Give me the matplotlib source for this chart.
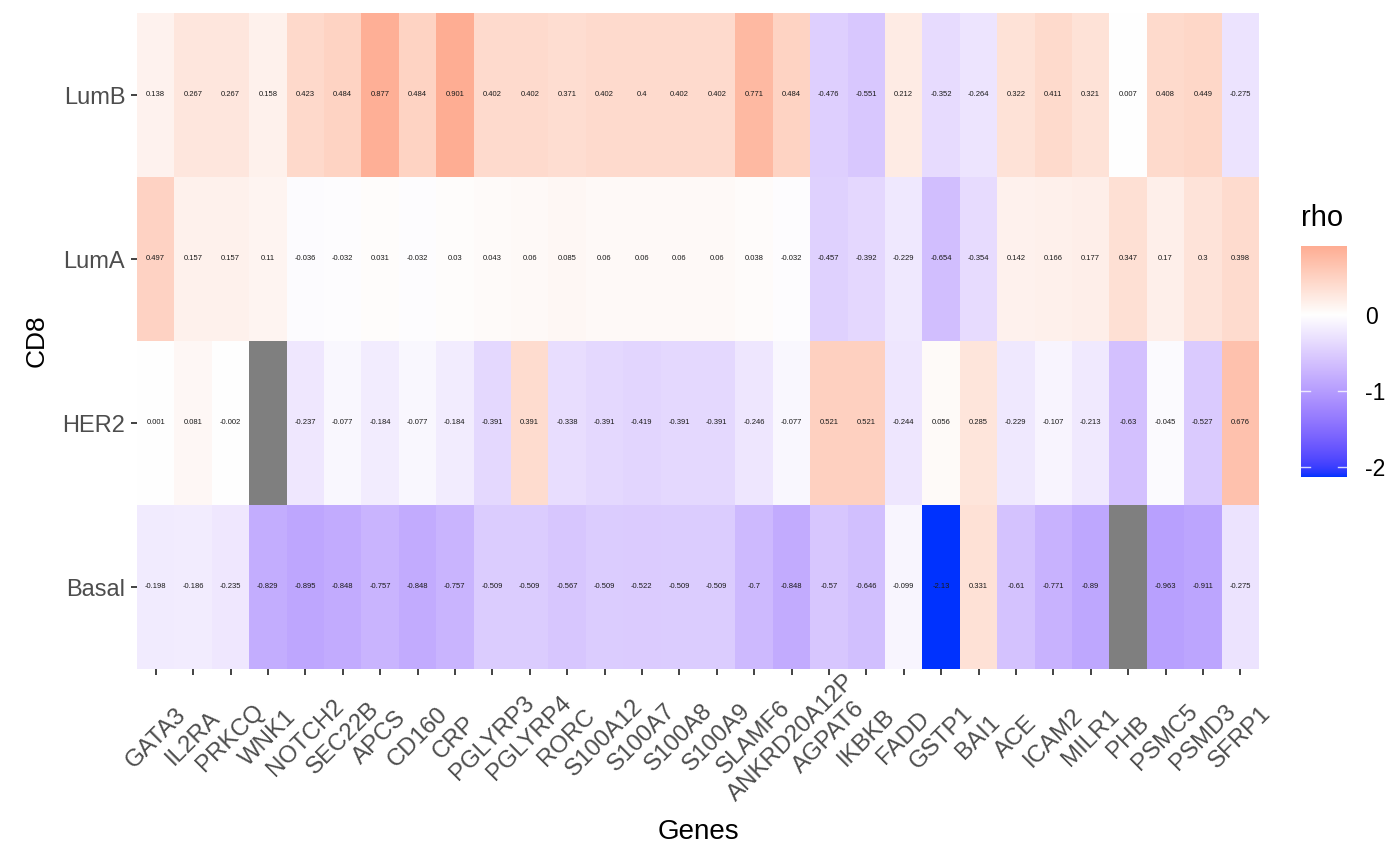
import numpy as np
import matplotlib
matplotlib.use("Agg")
import matplotlib.pyplot as plt
from matplotlib.colors import ListedColormap, Normalize

plt.rcParams["font.family"] = ["Liberation Sans", "DejaVu Sans"]

genes = ["GATA3", "IL2RA", "PRKCQ", "WNK1", "NOTCH2", "SEC22B", "APCS", "CD160", "CRP",
         "PGLYRP3", "PGLYRP4", "RORC", "S100A12", "S100A7", "S100A8", "S100A9", "SLAMF6",
         "ANKRD20A12P", "AGPAT6", "IKBKB", "FADD", "GSTP1", "BAI1", "ACE", "ICAM2", "MILR1",
         "PHB", "PSMC5", "PSMD3", "SFRP1"]
subtypes = ["LumB", "LumA", "HER2", "Basal"]

lumb = [0.138, 0.267, 0.267, 0.158, 0.423, 0.484, 0.877, 0.484, 0.901, 0.402, 0.402, 0.371,
        0.402, 0.4, 0.402, 0.402, 0.771, 0.484, -0.476, -0.551, 0.212, -0.352, -0.264, 0.322,
        0.411, 0.321, 0.007, 0.408, 0.449, -0.275]
luma = [0.497, 0.157, 0.157, 0.11, -0.036, -0.032, 0.031, -0.032, 0.03, 0.043, 0.06, 0.085,
        0.06, 0.06, 0.06, 0.06, 0.038, -0.032, -0.457, -0.392, -0.229, -0.654, -0.354, 0.142,
        0.166, 0.177, 0.347, 0.17, 0.3, 0.398]
her2 = [0.001, 0.081, -0.002, np.nan, -0.237, -0.077, -0.184, -0.077, -0.184, -0.391, 0.391,
        -0.338, -0.391, -0.419, -0.391, -0.391, -0.246, -0.077, 0.521, 0.521, -0.244, 0.056,
        0.285, -0.229, -0.107, -0.213, -0.63, -0.045, -0.527, 0.676]
basal = [-0.198, -0.186, -0.235, -0.829, -0.895, -0.848, -0.757, -0.848, -0.757, -0.509,
         -0.509, -0.567, -0.509, -0.522, -0.509, -0.509, -0.7, -0.848, -0.57, -0.646, -0.099,
         -2.13, 0.331, -0.61, -0.771, -0.89, np.nan, -0.963, -0.911, -0.275]

rho = np.array([lumb, luma, her2, basal])


# --- Lab interpolation like ggplot's gradient2 ---
def srgb_to_lab(rgb):
    rgb = np.asarray(rgb, float)
    lin = np.where(rgb <= 0.04045, rgb / 12.92, ((rgb + 0.055) / 1.055) ** 2.4)
    M = np.array([[0.4124, 0.3576, 0.1805], [0.2126, 0.7152, 0.0722], [0.0193, 0.1192, 0.9505]])
    xyz = M @ lin / np.array([0.95047, 1.0, 1.08883])
    f = np.where(xyz > 0.008856, np.cbrt(xyz), 7.787 * xyz + 16 / 116)
    return np.array([116 * f[1] - 16, 500 * (f[0] - f[1]), 200 * (f[1] - f[2])])


def lab_to_srgb(lab):
    L, a, b = lab
    fy = (L + 16) / 116
    fx = fy + a / 500
    fz = fy - b / 200
    f = np.array([fx, fy, fz])
    xyz = np.where(f ** 3 > 0.008856, f ** 3, (f - 16 / 116) / 7.787) * np.array([0.95047, 1.0, 1.08883])
    Minv = np.array([[3.2406, -1.5372, -0.4986], [-0.9689, 1.8758, 0.0415], [0.0557, -0.2040, 1.0570]])
    lin = Minv @ xyz
    lin = np.clip(lin, 0, 1)
    return np.where(lin <= 0.0031308, 12.92 * lin, 1.055 * lin ** (1 / 2.4) - 0.055)


low = srgb_to_lab([0.0, 0.2, 1.0])
mid = srgb_to_lab([1.0, 1.0, 1.0])
high = srgb_to_lab([1.0, 0.0, 0.0])
cols = []
for t in np.linspace(0, 1, 512):
    if t < 0.5:
        s = t / 0.5
        cols.append(lab_to_srgb(low + (mid - low) * s))
    else:
        s = (t - 0.5) / 0.5
        cols.append(lab_to_srgb(mid + (high - mid) * s))
cmap = ListedColormap(np.clip(cols, 0, 1))
cmap.set_bad("#7F7F7F")

vmin = np.nanmin(rho)
vmax = np.nanmax(rho)
lim = max(abs(vmin), abs(vmax))
norm = Normalize(-lim, lim)

fig = plt.figure(figsize=(13.92, 8.6), dpi=100)
# panel in pixels: x 137..1259, y 13..669
ax = fig.add_axes([137 / 1392, 1 - 669 / 860, (1259 - 137) / 1392, (669 - 13) / 860])
ax.imshow(np.ma.masked_invalid(rho), cmap=cmap, norm=norm, aspect="auto",
          interpolation="nearest")

for i in range(rho.shape[0]):
    for j in range(rho.shape[1]):
        v = rho[i, j]
        if np.isnan(v):
            continue
        ax.text(j, i, f"{v:g}", ha="center", va="center", fontsize=5.5, color="#1a1a1a")

for s in ax.spines.values():
    s.set_visible(False)
ax.set_xticks(range(len(genes)))
ax.set_xticklabels(genes, rotation=45, ha="center", va="center", rotation_mode="anchor",
                   fontsize=17.3, color="#4D4D4D")
ax.set_yticks(range(len(subtypes)))
ax.set_yticklabels(subtypes, fontsize=17, color="#4D4D4D")
ax.tick_params(axis="both", length=4.5, width=1.3, color="#333333")
ax.tick_params(axis="x", pad=45)
ax.tick_params(axis="y", pad=4)
ax.set_xlabel("Genes", fontsize=20, va="center")
ax.xaxis.set_label_coords(0.5, (669 - 832) / 656)
ax.set_ylabel("CD8", fontsize=19, va="center")
ax.yaxis.set_label_coords((37 - 137) / 1122, 0.5)

# colorbar
cax = fig.add_axes([1301 / 1392, 1 - 477 / 860, 46 / 1392, 231 / 860])
grad = np.linspace(vmin, vmax, 300).reshape(-1, 1)
cax.imshow(grad, cmap=cmap, norm=norm, aspect="auto", origin="lower",
           extent=[0, 1, vmin, vmax])
cax.set_xlim(0, 1)
cax.set_ylim(vmin, vmax)
cax.set_xticks([])
cax.yaxis.tick_right()
cb_ticks = [-2, -1, 0]
cax.set_yticks(cb_ticks)
cax.set_yticklabels([str(t) for t in cb_ticks], fontsize=16.5)
cax.tick_params(axis="y", length=0, pad=13)
for s in cax.spines.values():
    s.set_visible(False)
for t in cb_ticks:
    cax.plot([0, 0.2], [t, t], color="white", lw=1, alpha=0.8)
    cax.plot([0.8, 1], [t, t], color="white", lw=1, alpha=0.8)
fig.text(1301 / 1392, 1 - 218 / 860, "rho", fontsize=21, va="center", ha="left")

fig.savefig("out.png", dpi=100)
